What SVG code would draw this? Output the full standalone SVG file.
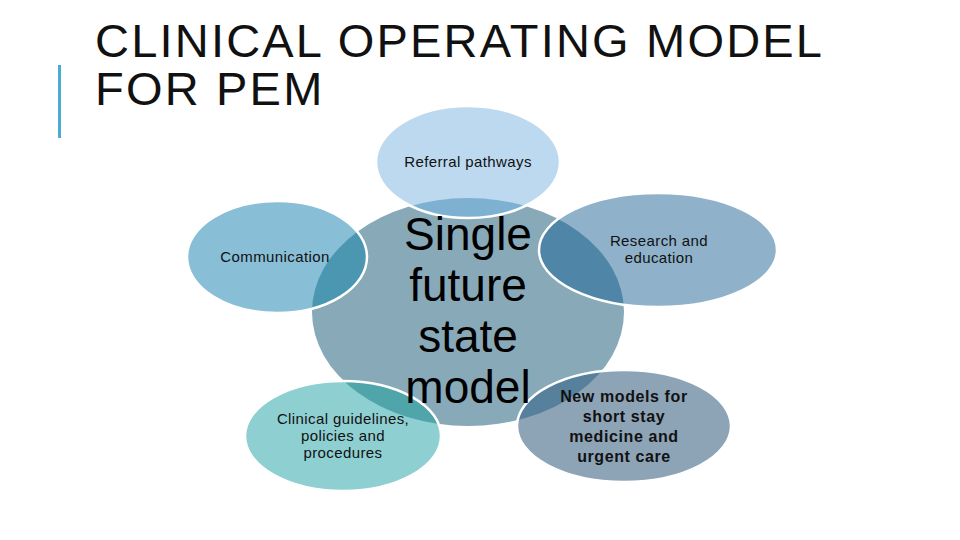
<svg xmlns="http://www.w3.org/2000/svg" width="960" height="540" viewBox="0 0 960 540">
<style>
.lbl{font-family:"Liberation Sans",Arial,sans-serif;font-size:15px;fill:#111;text-anchor:middle;letter-spacing:0.4px}
.bold{font-family:"Liberation Sans",Arial,sans-serif;font-size:16px;font-weight:bold;fill:#111;text-anchor:middle;letter-spacing:0.6px}
.big{font-family:"Liberation Sans",Arial,sans-serif;font-size:46px;fill:#000;text-anchor:middle}
.title{font-family:"Liberation Sans",Arial,sans-serif;font-size:47px;fill:#111;letter-spacing:2.2px}
.outline{fill:none;stroke:#fff;stroke-width:2.5}
</style>
<defs>
<ellipse id="centerShape" cx="468" cy="312" rx="156" ry="114"/>
<clipPath id="cTop"><ellipse cx="468" cy="162" rx="92" ry="56"/></clipPath>
<clipPath id="cComm"><ellipse cx="277" cy="257" rx="90" ry="56"/></clipPath>
<clipPath id="cClin"><ellipse cx="343" cy="436" rx="98" ry="55"/></clipPath>
<clipPath id="cRes"><ellipse cx="658" cy="250" rx="119" ry="57"/></clipPath>
<clipPath id="cNew"><ellipse cx="624" cy="426" rx="107" ry="56"/></clipPath>
</defs>
<rect width="960" height="540" fill="#fff"/>
<g id="title">
<rect x="58" y="65" width="3" height="73" fill="#4AABD5"/>
<text class="title" x="95" y="57">CLINICAL OPERATING MODEL</text>
<text class="title" x="95" y="105">FOR PEM</text>
</g>
<g id="connectors"/>
<g id="node-center">
<use href="#centerShape" fill="#88A9B8"/>
</g>
<g id="node-referral">
<ellipse cx="468" cy="162" rx="92" ry="56" fill="#BCD9EF"/>
<use href="#centerShape" fill="#7EB1D1" clip-path="url(#cTop)"/>
<ellipse class="outline" cx="468" cy="162" rx="92" ry="56"/>
<text class="lbl" x="468" y="167">Referral pathways</text>
</g>
<g id="node-communication">
<ellipse cx="277" cy="257" rx="90" ry="56" fill="#88BED6"/>
<use href="#centerShape" fill="#4B97B2" clip-path="url(#cComm)"/>
<ellipse class="outline" cx="277" cy="257" rx="90" ry="56"/>
<text class="lbl" x="275" y="262">Communication</text>
</g>
<g id="node-clinical">
<ellipse cx="343" cy="436" rx="98" ry="55" fill="#8ECFD1"/>
<use href="#centerShape" fill="#50A5AB" clip-path="url(#cClin)"/>
<ellipse class="outline" cx="343" cy="436" rx="98" ry="55"/>
<text class="lbl" x="343" y="424">Clinical guidelines,</text>
<text class="lbl" x="343" y="441">policies and</text>
<text class="lbl" x="343" y="458">procedures</text>
</g>
<g id="node-research">
<ellipse cx="658" cy="250" rx="119" ry="57" fill="#8FB1CA"/>
<use href="#centerShape" fill="#4F86A8" clip-path="url(#cRes)"/>
<ellipse class="outline" cx="658" cy="250" rx="119" ry="57"/>
<text class="lbl" x="659" y="246">Research and</text>
<text class="lbl" x="659" y="263">education</text>
</g>
<g id="node-newmodels">
<ellipse cx="624" cy="426" rx="107" ry="56" fill="#8DA3B6"/>
<use href="#centerShape" fill="#56809C" clip-path="url(#cNew)"/>
<ellipse class="outline" cx="624" cy="426" rx="107" ry="56"/>
<text class="bold" x="624" y="402">New models for</text>
<text class="bold" x="624" y="422">short stay</text>
<text class="bold" x="624" y="442">medicine and</text>
<text class="bold" x="624" y="462">urgent care</text>
</g>
<g id="node-center-label">
<text class="big" x="468" y="250">Single</text>
<text class="big" x="468" y="301">future</text>
<text class="big" x="468" y="352">state</text>
<text class="big" x="468" y="403">model</text>
</g>
</svg>
